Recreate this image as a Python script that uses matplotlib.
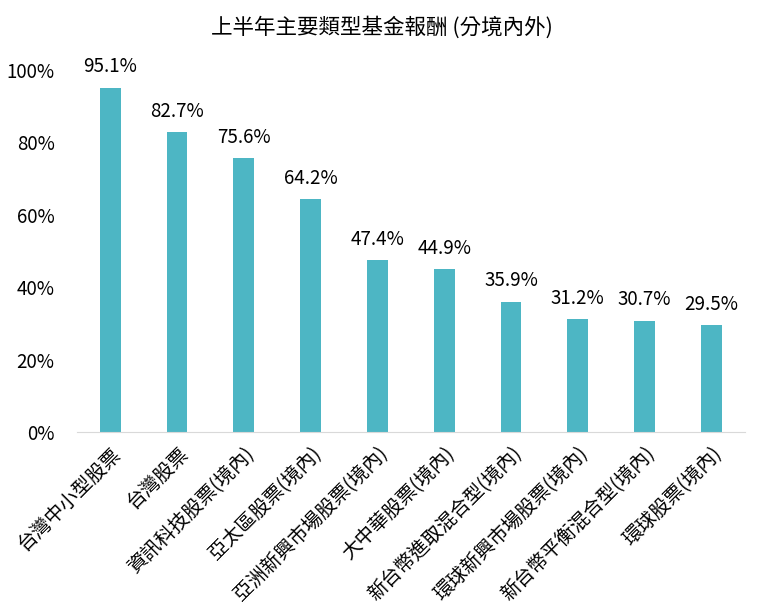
import matplotlib.pyplot as plt
import numpy as np

plt.rcParams['font.family'] = ['Noto Sans CJK TC', 'DejaVu Sans']

# data
categories = ['台灣中小型股票', '台灣股票', '資訊科技股票(境內)', '亞太區股票(境內)',
              '亞洲新興市場股票(境內)', '大中華股票(境內)', '新台幣進取混合型(境內)',
              '環球新興市場股票(境內)', '新台幣平衡混合型(境內)', '環球股票(境內)']
returns = [95.1, 82.7, 75.6, 64.2, 47.4, 44.9, 35.9, 31.2, 30.7, 29.5]
yticks = [0, 20, 40, 60, 80, 100]

fig = plt.figure(figsize=(7.6, 6.12), dpi=100)
ax = fig.add_axes([0.101, 0.294, 0.879, 0.592])

x = np.arange(len(categories))
bars = ax.bar(x, returns, width=0.31, color='#4DB6C4')

for xi, v in zip(x, returns):
    ax.text(xi, v + 5.8, f'{v:.1f}%', ha='center', va='center', fontsize=13.5, clip_on=False)

ax.set_xlim(-0.5, len(categories) - 0.5)
ax.set_ylim(0, 100)
ax.set_yticks(yticks)
ax.set_yticklabels([f'{t}%' for t in yticks], fontsize=13.5)
ax.set_xticks(x)
ax.set_xticklabels(categories, rotation=45, ha='right', rotation_mode='anchor', fontsize=14)
ax.tick_params(axis='both', length=0)
ax.tick_params(axis='y', pad=16)
ax.tick_params(axis='x', pad=8)

for s in ['top', 'right', 'left']:
    ax.spines[s].set_visible(False)
ax.spines['bottom'].set_color('#D9D9D9')

fig.text(0.502, 0.955, '上半年主要類型基金報酬 (分境內外)', ha='center', va='center', fontsize=15.5)

fig.savefig('out.png', dpi=100)
